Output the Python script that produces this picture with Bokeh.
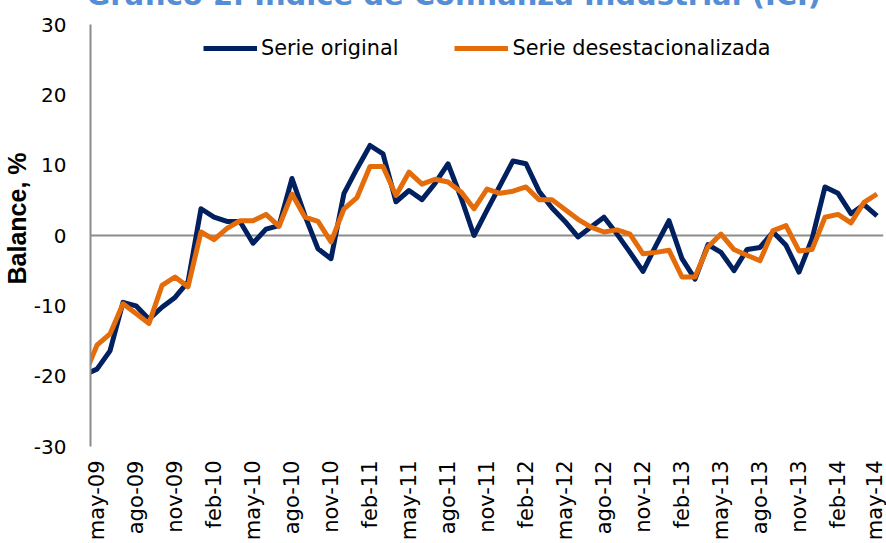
import math
from bokeh.plotting import figure
from bokeh.models import FixedTicker, Legend, LegendItem, Range1d, Title
from bokeh.embed import file_html
from bokeh.resources import INLINE

# month positions: -1 = abr-09 (partly hidden), 0 = may-09 ... 60 = may-14
month_index = list(range(-1, 61))

tick_positions = [0, 3, 6, 9, 12, 15, 18, 21, 24, 27, 30, 33, 36, 39, 42, 45, 48, 51, 54, 57, 60]
tick_labels = ["may-09", "ago-09", "nov-09", "feb-10", "may-10", "ago-10", "nov-10",
               "feb-11", "may-11", "ago-11", "nov-11", "feb-12", "may-12", "ago-12",
               "nov-12", "feb-13", "may-13", "ago-13", "nov-13", "feb-14", "may-14"]

y_ticks = [-30, -20, -10, 0, 10, 20, 30]
y_tick_labels = ["-30", "-20", "-10", "0", "10", "20", "30"]

serie_original = [
    -19.8, -19.0, -16.4, -9.5, -10.0, -11.9, -10.2, -8.8, -6.6, 3.8,
    2.6, 2.0, 2.0, -1.1, 0.9, 1.4, 8.1, 2.8, -1.9, -3.3,
    6.0, 9.5, 12.8, 11.6, 4.8, 6.4, 5.1, 7.4, 10.2, 5.4,
    0.0, 3.6, 7.1, 10.6, 10.2, 6.3, 3.9, 2.0, -0.2, 1.2,
    2.6, 0.2, -2.4, -5.1, -1.4, 2.1, -3.3, -6.2, -1.3, -2.4,
    -5.0, -2.0, -1.7, 0.5, -1.4, -5.2, -0.5, 6.9, 6.0, 3.1,
    4.4, 2.8,
]

serie_desestacionalizada = [
    -20.0, -15.6, -14.0, -9.7, -11.1, -12.5, -7.1, -5.9, -7.3, 0.5,
    -0.6, 1.0, 2.1, 2.1, 3.0, 1.3, 5.9, 2.6, 2.0, -0.9,
    3.8, 5.4, 9.8, 9.8, 5.7, 9.0, 7.3, 8.0, 7.6, 6.2,
    3.8, 6.6, 6.0, 6.3, 6.9, 5.1, 5.1, 3.7, 2.3, 1.2,
    0.5, 0.8, 0.2, -2.6, -2.4, -2.1, -5.9, -5.9, -1.6, 0.2,
    -2.0, -2.8, -3.6, 0.7, 1.4, -2.2, -2.0, 2.6, 3.0, 1.8,
    4.7, 5.9,
]

BLUE = "#002060"
ORANGE = "#E46C0A"
GRAY = "#8c8c8c"

TOP_SHIFT = 38  # title is cut at the top edge, as in the reference

p = figure(width=886, height=543 + TOP_SHIFT, output_backend="svg", toolbar_location=None,
           x_range=Range1d(-0.5, 60.5), y_range=Range1d(-30, 30),
           min_border_left=90, min_border_right=3, min_border_top=24 + TOP_SHIFT,
           min_border_bottom=96)
p.styles = {"margin-top": "-%dpx" % TOP_SHIFT}
p.outline_line_color = None
p.background_fill_color = "white"
p.border_fill_color = "white"

# empty default title, kept tiny
p.title.text = ""
p.title.text_font_size = "1px"
p.title.standoff = 0

# spacer between the frame and the main title
spacer = Title(text=" ", text_font_size="6px", standoff=0)
p.add_layout(spacer, "above")

main_title = Title(text="Gráfico 2. Índice de Confianza Industrial (ICI)",
                   align="left", offset=-4, standoff=10,
                   text_font="DejaVu Sans", text_font_style="bold",
                   text_font_size="29px", text_color="#558ED5")
p.add_layout(main_title, "above")

p.xgrid.visible = False
p.ygrid.ticker = FixedTicker(ticks=[0])
p.ygrid.grid_line_color = GRAY
p.ygrid.grid_line_width = 2

yax = p.yaxis[0]
yax.ticker = FixedTicker(ticks=y_ticks)
yax.major_label_overrides = {t: l for t, l in zip(y_ticks, y_tick_labels)}
yax.axis_line_color = GRAY
yax.axis_line_width = 2
yax.major_tick_line_color = None
yax.minor_tick_line_color = None
yax.major_tick_out = 0
yax.minor_tick_out = 0
yax.major_label_text_font = "DejaVu Sans"
yax.major_label_text_font_size = "20px"
yax.major_label_text_color = "black"
yax.major_label_standoff = 24

xax = p.xaxis[0]
xax.ticker = FixedTicker(ticks=tick_positions)
xax.major_label_overrides = {t: l for t, l in zip(tick_positions, tick_labels)}
xax.major_label_orientation = math.pi / 2
xax.axis_line_color = None
xax.major_tick_line_color = None
xax.minor_tick_line_color = None
xax.major_tick_out = 0
xax.minor_tick_out = 0
xax.major_label_text_font = "DejaVu Sans"
xax.major_label_text_font_size = "21px"
xax.major_label_text_color = "black"
xax.major_label_standoff = 14

r1 = p.line(x=month_index, y=serie_original, line_color=BLUE, line_width=5,
            line_join="round")
r2 = p.line(x=month_index, y=serie_desestacionalizada, line_color=ORANGE,
            line_width=5, line_join="round")

legend = Legend(items=[LegendItem(label="Serie original", renderers=[r1]),
                       LegendItem(label="Serie desestacionalizada", renderers=[r2])],
                orientation="horizontal", location=(113, 386),
                border_line_color=None, background_fill_alpha=0,
                padding=0, margin=0, spacing=56, glyph_width=54, glyph_height=24,
                label_standoff=4, label_text_font="DejaVu Sans",
                label_text_font_size="20.8px", label_text_color="black")
p.add_layout(legend)

ylabel = Title(text="Balance, %", align="left", offset=162, standoff=0,
               text_font="Liberation Sans", text_font_style="bold",
               text_font_size="25px", text_color="black")
p.add_layout(ylabel, "left")

open("out.html", "w").write(file_html(p, INLINE))
